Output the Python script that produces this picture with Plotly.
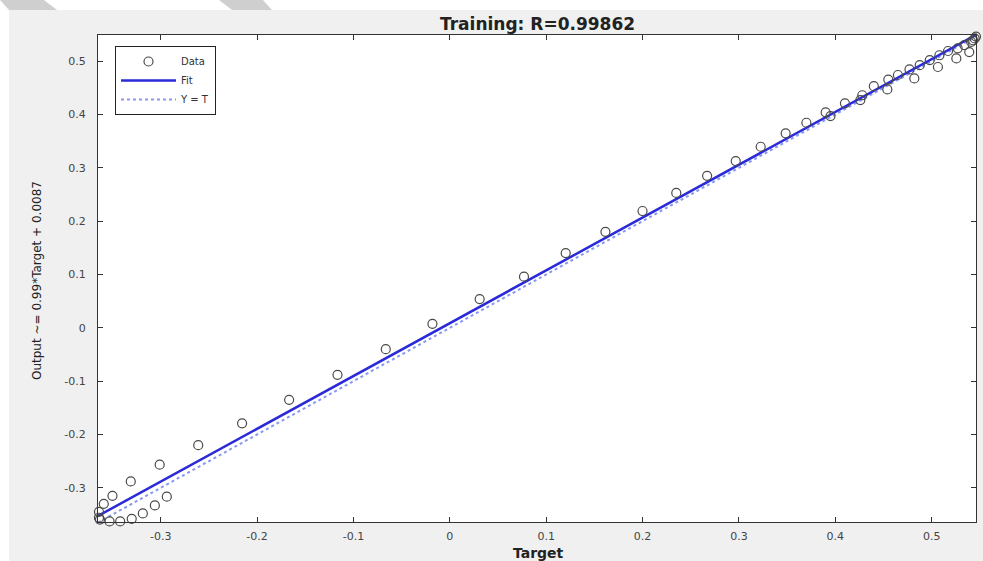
import plotly.graph_objects as go
import numpy as np

# ---- data ----
target = [-0.364, -0.364, -0.363, -0.359, -0.353, -0.350, -0.342, -0.331, -0.330,
          -0.3185, -0.306, -0.301, -0.2936,
          -0.261, -0.2155, -0.1667, -0.1165, -0.0664, -0.018, 0.031, 0.077,
          0.1203, 0.1615, 0.200, 0.235, 0.267, 0.2967, 0.3226, 0.3485, 0.370,
          0.390, 0.395, 0.410, 0.426, 0.428, 0.440, 0.454, 0.455, 0.465, 0.477,
          0.482, 0.4876, 0.498, 0.5065, 0.508, 0.517, 0.5256, 0.527, 0.534,
          0.539, 0.541, 0.543, 0.5446, 0.546]
output = [-0.345, -0.356, -0.3595, -0.330, -0.363, -0.315, -0.363, -0.288, -0.358,
          -0.348, -0.333, -0.2566, -0.3165,
          -0.220, -0.179, -0.135, -0.088, -0.040, 0.0075, 0.054, 0.096,
          0.140, 0.180, 0.219, 0.253, 0.285, 0.3127, 0.3395, 0.3646, 0.3845,
          0.404, 0.397, 0.421, 0.427, 0.436, 0.453, 0.447, 0.4655, 0.474, 0.4845,
          0.4676, 0.4925, 0.502, 0.489, 0.511, 0.519, 0.505, 0.524, 0.530,
          0.517, 0.536, 0.539, 0.5425, 0.546]
fit_slope = 0.99
fit_intercept = 0.0087
x_limits = [-0.365, 0.546]
y_limits = [-0.364, 0.549]
tick_vals = [-0.3, -0.2, -0.1, 0.0, 0.1, 0.2, 0.3, 0.4, 0.5]
tick_text = ["-0.3", "-0.2", "-0.1", "0", "0.1", "0.2", "0.3", "0.4", "0.5"]
title_text = "Training: R=0.99862"
x_label = "Target"
y_label = "Output ~= 0.99*Target + 0.0087"

# ---- geometry ----
W, H = 983, 561
L, R, T, B = 98, 7, 35, 39
PW, PH = W - L - R, H - T - B


def px(x):
    return (x - L) / PW


def py(y):
    return (H - B - y) / PH


fit_x = np.array(x_limits)
fit_y = fit_slope * fit_x + fit_intercept

fig = go.Figure()
fig.add_trace(go.Scatter(
    x=x_limits, y=x_limits, mode="lines", name="Y = T", legendrank=3,
    line=dict(color="#8898f2", width=2, dash="dot")))
fig.add_trace(go.Scatter(
    x=fit_x, y=fit_y, mode="lines", name="Fit", legendrank=2,
    line=dict(color="#2a2ad8", width=2.5)))
fig.add_trace(go.Scatter(
    x=target, y=output, mode="markers", name="Data", legendrank=1,
    marker=dict(symbol="circle-open", size=9, color="#4a4a4a",
                line=dict(width=1.2, color="#4a4a4a")),
    cliponaxis=False))

axis_common = dict(
    tickvals=tick_vals, ticktext=tick_text, ticks="inside", ticklen=5,
    tickcolor="#333333", showline=True, linecolor="#333333", linewidth=1,
    mirror="ticks", showgrid=False, zeroline=False,
    tickfont=dict(family="DejaVu Sans", size=11, color="#444444"),
)
fig.update_xaxes(range=x_limits, ticklabelstandoff=4, **axis_common)
fig.update_yaxes(range=y_limits, ticklabelstandoff=9, **axis_common)

shapes = [
    # white strip along the top and left edge of the page
    dict(type="rect", xref="paper", yref="paper", x0=px(0), x1=px(W),
         y0=py(10), y1=py(0), fillcolor="white", line_width=0, layer="above"),
    dict(type="rect", xref="paper", yref="paper", x0=px(0), x1=px(9),
         y0=py(H), y1=py(0), fillcolor="white", line_width=0, layer="above"),
    # grey watermark slants in the top strip
    dict(type="path", xref="paper", yref="paper",
         path=f"M {px(0)},{py(0)} L {px(44)},{py(0)} L {px(57)},{py(10)} L {px(9)},{py(10)} Z",
         fillcolor="#cfcfcf", line_width=0, layer="above"),
    dict(type="path", xref="paper", yref="paper",
         path=f"M {px(219)},{py(0)} L {px(263)},{py(0)} L {px(272)},{py(10)} L {px(232)},{py(10)} Z",
         fillcolor="#cfcfcf", line_width=0, layer="above"),
]

annotations = [
    dict(text=f"<b>{title_text}</b>", xref="paper", yref="paper", x=px(537), y=py(24),
         xanchor="center", yanchor="middle", showarrow=False,
         font=dict(family="DejaVu Sans", size=17, color="#222222")),
    dict(text=f"<b>{x_label}</b>", xref="paper", yref="paper", x=px(538), y=py(553),
         xanchor="center", yanchor="middle", showarrow=False,
         font=dict(family="DejaVu Sans", size=14, color="#222222")),
    dict(text=y_label, xref="paper", yref="paper", x=px(37), y=py(281),
         xanchor="center", yanchor="middle", showarrow=False, textangle=-90,
         font=dict(family="DejaVu Sans", size=12, color="#222222")),
]

fig.update_layout(
    width=W, height=H, autosize=False,
    margin=dict(l=L, r=R, t=T, b=B, pad=0),
    paper_bgcolor="#f0f0f0", plot_bgcolor="white",
    shapes=shapes, annotations=annotations,
    showlegend=True,
    legend=dict(x=px(115), y=py(46), xanchor="left", yanchor="top",
                bgcolor="white", bordercolor="#222222", borderwidth=1,
                font=dict(family="DejaVu Sans", size=10, color="#333333"),
                itemwidth=55, tracegroupgap=0),
)

fig.write_html("out.html")
